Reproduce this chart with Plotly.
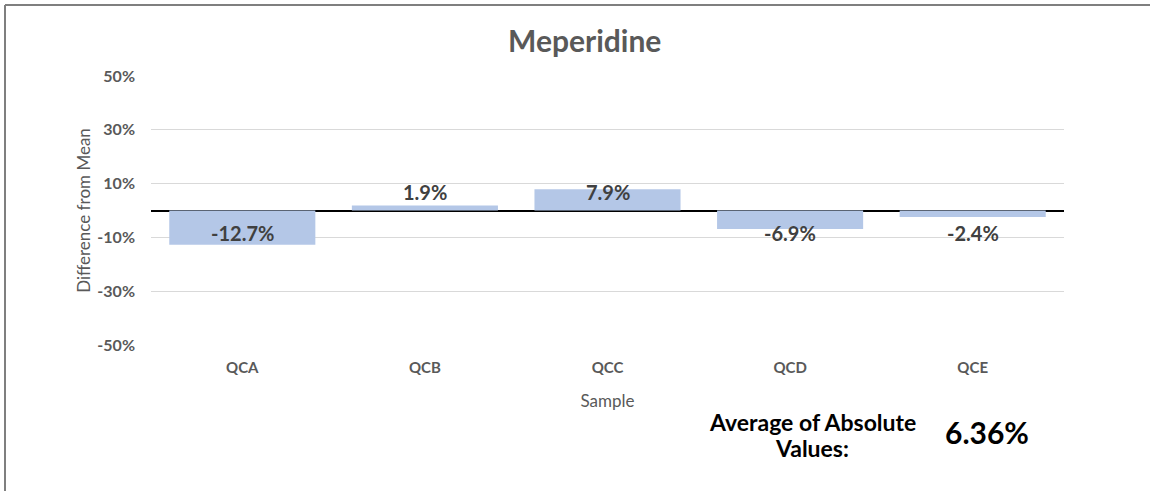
import plotly.graph_objects as go

categories = ["QCA", "QCB", "QCC", "QCD", "QCE"]
values = [-0.127, 0.019, 0.079, -0.069, -0.024]
tick_vals = [-0.5, -0.3, -0.1, 0.1, 0.3, 0.5]
tick_text = ["-50%", "-30%", "-10%", "10%", "30%", "50%"]
avg_label_lines = ["Average of Absolute", "Values:"]
avg_value = "6.36%"

FONT = "Lato, 'Open Sans', sans-serif"
GRAY = "#595959"

fig = go.Figure()
fig.add_trace(go.Bar(
    x=categories, y=values,
    marker=dict(color="#B4C7E7", line=dict(width=0)),
    hoverinfo="skip",
))

annotations = []
for c, v in zip(categories, values):
    annotations.append(dict(
        x=c, y=0, xref="x", yref="y",
        text=f"<b>{v*100:.1f}%</b>", showarrow=False,
        yshift=19 if v >= 0 else -22,
        font=dict(family=FONT, size=20, color="#404040"),
    ))

annotations += [
    dict(text="<b>Meperidine</b>", x=0.475, y=1.134, xref="paper", yref="paper",
         showarrow=False, xanchor="center", yanchor="middle",
         font=dict(family=FONT, size=30, color=GRAY)),
    dict(text=f"<b>{avg_label_lines[0]}</b>", x=0.724, y=-0.286, xref="paper", yref="paper",
         showarrow=False, xanchor="center", yanchor="middle",
         font=dict(family=FONT, size=23, color="#000000")),
    dict(text=f"<b>{avg_label_lines[1]}</b>", x=0.724, y=-0.383, xref="paper", yref="paper",
         showarrow=False, xanchor="center", yanchor="middle",
         font=dict(family=FONT, size=23, color="#000000")),
    dict(text=f"<b>{avg_value}</b>", x=0.9157, y=-0.323, xref="paper", yref="paper",
         showarrow=False, xanchor="center", yanchor="middle",
         font=dict(family=FONT, size=30, color="#000000")),
]

fig.update_layout(
    width=1150, height=491,
    margin=dict(l=151, r=86, t=76, b=146),
    plot_bgcolor="white", paper_bgcolor="white",
    showlegend=False,
    bargap=0.2,
    annotations=annotations,
    xaxis=dict(
        showgrid=False, showline=False, zeroline=False,
        ticks="", tickfont=dict(family=FONT, size=15, color=GRAY, weight="bold"),
        title=dict(text="Sample", font=dict(family=FONT, size=17, color=GRAY), standoff=20),
        ticklabelstandoff=12,
    ),
    yaxis=dict(
        range=[-0.5, 0.5], tickvals=tick_vals, ticktext=tick_text,
        showgrid=True, gridcolor="#D9D9D9", gridwidth=1,
        zeroline=True, zerolinecolor="#000000", zerolinewidth=2,
        showline=False, ticks="",
        tickfont=dict(family=FONT, size=16, color=GRAY, weight="bold"),
        ticklabelstandoff=15,
        title=dict(text="Difference from Mean", font=dict(family=FONT, size=17, color=GRAY), standoff=2),
    ),
    shapes=[
        dict(type="line", xref="paper", yref="paper",
             x0=(5 - 151) / 913, x1=(1150 - 151) / 913, y0=(345 - 5) / 269, y1=(345 - 5) / 269,
             line=dict(color="#7F7F7F", width=2)),
        dict(type="line", xref="paper", yref="paper",
             x0=(5 - 151) / 913, x1=(5 - 151) / 913, y0=(345 - 5) / 269, y1=(345 - 491) / 269,
             line=dict(color="#7F7F7F", width=2)),
    ],
)

fig.write_html("out.html", config={"displayModeBar": False},
               post_script="document.body.style.margin='0';document.body.style.overflow='hidden';")
